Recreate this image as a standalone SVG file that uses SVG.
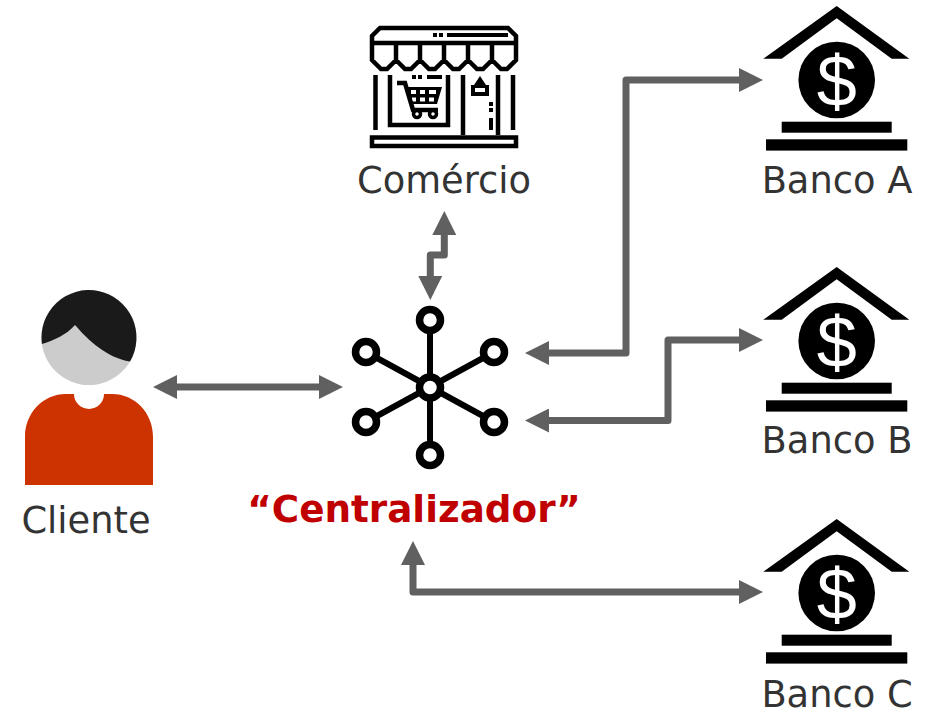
<svg xmlns="http://www.w3.org/2000/svg" xmlns:xlink="http://www.w3.org/1999/xlink" width="929" height="712" viewBox="0 0 929 712">
<style>
.lbl{font-family:"DejaVu Sans",Verdana,sans-serif;font-size:36.800px;fill:#333;text-anchor:middle}
.conn{fill:none;stroke:#606060;stroke-width:7;stroke-linejoin:round;marker-start:url(#ah);marker-end:url(#ah)}
.ring{fill:#fff;stroke:#000;stroke-width:7.500}
.spoke{stroke:#000;stroke-width:6;fill:none}
.ic{fill:none;stroke:#000;stroke-width:4.500}
</style>
<defs>
<marker id="ah" markerUnits="userSpaceOnUse" markerWidth="24" markerHeight="24" refX="0" refY="12" orient="auto-start-reverse" viewBox="0 0 24 24"><path d="M0 0L24 12L0 24Z" fill="#606060"/></marker>
<g id="bank">
<path d="M836.700 6L909.300 58.700H891.700L836.700 18.300L781.700 58.700H763.300Z" fill="#000"/>
<circle cx="836.700" cy="80" r="38.300" fill="#000"/>
<text x="836.700" y="106" font-family="Liberation Sans,Arial,sans-serif" font-size="72" fill="#fff" text-anchor="middle">$</text>
<rect x="781.700" y="121.700" width="110" height="11" fill="#000"/>
<rect x="766" y="139.300" width="141.300" height="11.300" fill="#000"/>
</g>
</defs>
<g id="connectors">
<path class="conn" d="M177 387H319"/>
<path class="conn" d="M444.300 235V255H430.300V276"/>
<path class="conn" d="M549 353H626V80H739"/>
<path class="conn" d="M549 420.500H668V340H739"/>
<path class="conn" d="M413 565V592H739"/>
</g>
<g id="cliente">
<circle cx="89" cy="337.500" r="47.500" fill="#ccc"/>
<path d="M41.900 344A47.500 47.500 0 1 1 130 361.500C107 358 88 340 75 325C66 335 55 340 41.900 344Z" fill="#1a1a1a"/>
<path d="M25 485V437C25 413 43 394 66 394H74A15 15 0 0 0 104 394H112C135 394 153 413 153 437V485Z" fill="#cc3300"/>
<text class="lbl" x="86" y="533">Cliente</text>
</g>
<g id="comercio">
<path class="ic" d="M372 43V36L380 28H508L516 36V43ZM372 43V60L381 69H387L396 60V43M396 60L405 69H411L420 60V43M420 60L429 69H435L444 60V43M444 60L453 69H459L468 60V43M468 60L477 69H483L492 60V43M492 60L501 69H507L516 60V43"/>
<path d="M433 33h4v4h-4zM439 33h4v4h-4zM447 33h61v4h-61z" fill="#000"/>
<path class="ic" d="M375.500 75V130M390 75V125H448V75M463 75V135M498 75V135M513 75V130"/>
<path class="ic" d="M372 137.500H516V146H372Z"/>
<path d="M412 75h4v4h-4zM418 75h4v4h-4zM427 75h15v4h-15z" fill="#000"/>
<path d="M480 76L486 85H489V96H471V85H474ZM475 88V92H485V88Z" fill="#000" fill-rule="evenodd"/>
<path d="M489 102h4v4h-4zM489 108h4v4h-4zM489 118h4v12h-4z" fill="#000"/>
<path class="ic" d="M397 83H405L413 110H438" stroke-width="4"/>
<path fill-rule="evenodd" d="M407 87H442L437 104H411ZM411 90V94H416V90ZM420 90V94H425V90ZM429 90V94H436V90ZM412 97.500V101.500H416V97.500ZM420 97.500V101.500H425V97.500ZM429 97.500V101.500H434V97.500Z" fill="#000"/>
<circle cx="417" cy="114" r="3.500" fill="#fff" stroke="#000" stroke-width="3.500"/>
<circle cx="433" cy="114" r="3.500" fill="#fff" stroke="#000" stroke-width="3.500"/>
<text class="lbl" x="444" y="193">Comércio</text>
</g>
<g id="centralizador">
<path class="spoke" d="M430 320V455M366 352L494 422M494 352L366 422"/>
<circle class="ring" cx="430" cy="320" r="10.500"/>
<circle class="ring" cx="366" cy="352" r="10.500"/>
<circle class="ring" cx="494" cy="352" r="10.500"/>
<circle class="ring" cx="366" cy="422" r="10.500"/>
<circle class="ring" cx="494" cy="422" r="10.500"/>
<circle class="ring" cx="430" cy="455" r="10.500"/>
<circle class="ring" cx="430" cy="387.500" r="10.500"/>
<text x="414" y="522" font-family="DejaVu Sans,sans-serif" font-weight="700" font-size="37.300" fill="#c00000" text-anchor="middle">“Centralizador”</text>
</g>
<g id="banco-a"><use xlink:href="#bank"/><text class="lbl" x="837" y="193">Banco A</text></g>
<g id="banco-b"><use xlink:href="#bank" y="261"/><text class="lbl" x="837" y="453">Banco B</text></g>
<g id="banco-c"><use xlink:href="#bank" y="513"/><text class="lbl" x="837" y="707">Banco C</text></g>
</svg>
